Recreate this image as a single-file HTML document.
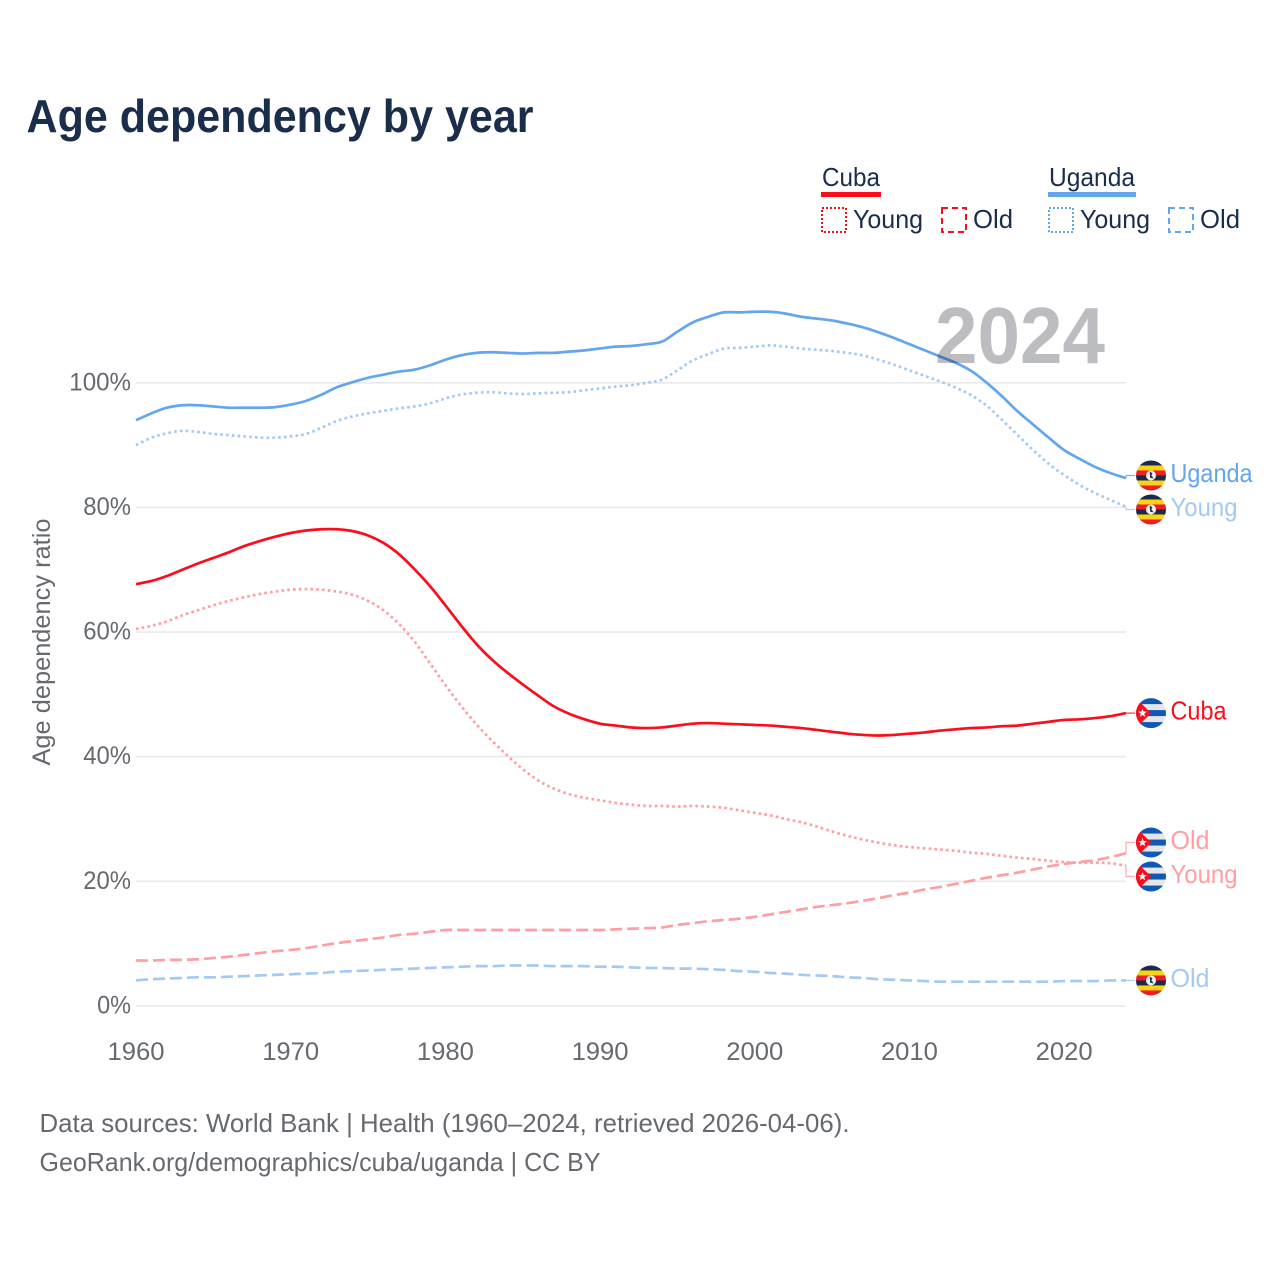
<!DOCTYPE html>
<html lang="en">
<head>
<meta charset="utf-8">
<title>Age dependency by year</title>
<style>
html,body{margin:0;padding:0;background:#fff;width:1280px;height:1280px;overflow:hidden}
svg{display:block}
text{font-family:"Liberation Sans",Arial,sans-serif}
</style>
</head>
<body>
<svg id="chart" xmlns="http://www.w3.org/2000/svg" width="1280" height="1280" viewBox="0 0 1280 1280">
  <rect width="1280" height="1280" fill="#fff"/>
  <text x="26.5" y="132" font-size="46" font-weight="700" fill="#1a2e4c" textLength="507" lengthAdjust="spacingAndGlyphs">Age dependency by year</text>

  <g font-size="26" fill="#1a2e4c">
    <text x="822" y="186" textLength="58" lengthAdjust="spacingAndGlyphs">Cuba</text>
    <rect x="821" y="192" width="60" height="5" fill="#fb0d1b"/>
    <rect x="822" y="208" width="24" height="24" fill="none" stroke="#fb0d1b" stroke-width="2" stroke-dasharray="2 2"/>
    <text x="853" y="228" textLength="70" lengthAdjust="spacingAndGlyphs">Young</text>
    <rect x="942" y="208" width="24" height="24" fill="none" stroke="#fb0d1b" stroke-width="2" stroke-dasharray="6 4"/>
    <text x="973" y="228" textLength="40" lengthAdjust="spacingAndGlyphs">Old</text>
    <text x="1049" y="186" textLength="86" lengthAdjust="spacingAndGlyphs">Uganda</text>
    <rect x="1048" y="192" width="88" height="5" fill="#63a6ee"/>
    <rect x="1049" y="208" width="24" height="24" fill="none" stroke="#63a6ee" stroke-width="2" stroke-dasharray="2 2"/>
    <text x="1080" y="228" textLength="70" lengthAdjust="spacingAndGlyphs">Young</text>
    <rect x="1169" y="208" width="24" height="24" fill="none" stroke="#63a6ee" stroke-width="2" stroke-dasharray="6 4"/>
    <text x="1200" y="228" textLength="40" lengthAdjust="spacingAndGlyphs">Old</text>
  </g>

  <g id="grid"></g>
  <g id="yticks"></g>
  <g id="xticks"></g>
  <text transform="translate(50,642) rotate(-90)" text-anchor="middle" font-size="25" fill="#666a70" textLength="247" lengthAdjust="spacingAndGlyphs">Age dependency ratio</text>

  <g id="series"></g>
  <text id="year" x="935" y="363" font-size="80" font-weight="700" fill="#bcbdc0" textLength="170" lengthAdjust="spacingAndGlyphs" style="mix-blend-mode:multiply">2024</text>
  <g id="endlabels"></g>

  <g font-size="26" fill="#666a70">
    <text x="39.5" y="1132" textLength="810" lengthAdjust="spacingAndGlyphs">Data sources: World Bank | Health (1960–2024, retrieved 2026-04-06).</text>
    <text x="39.5" y="1171" textLength="561" lengthAdjust="spacingAndGlyphs">GeoRank.org/demographics/cuba/uganda | CC BY</text>
  </g>
</svg>
<script>
const yearStart = 1960;
const xTickLabels = [1960, 1970, 1980, 1990, 2000, 2010, 2020];
const yTickLabels = [0, 20, 40, 60, 80, 100];

const ugandaTotal = [
  94.0,95.1,96.0,96.4,96.4,96.2,96.0,96.0,96.0,96.1,
  96.5,97.1,98.1,99.3,100.1,100.8,101.3,101.8,102.1,102.8,
  103.7,104.4,104.8,104.9,104.8,104.7,104.8,104.8,105.0,105.2,
  105.5,105.8,105.9,106.2,106.6,108.2,109.7,110.6,111.3,111.3,
  111.4,111.4,111.1,110.6,110.3,110.0,109.5,108.9,108.1,107.2,
  106.2,105.2,104.2,103.2,101.9,100.0,97.8,95.4,93.3,91.2,
  89.2,87.8,86.5,85.5,84.7];
const ugandaYoung = [
  90.0,91.2,91.9,92.3,92.1,91.8,91.6,91.4,91.2,91.2,
  91.4,91.8,92.8,93.9,94.6,95.1,95.5,95.9,96.2,96.7,
  97.5,98.1,98.4,98.5,98.3,98.2,98.3,98.4,98.5,98.8,
  99.1,99.4,99.6,100.0,100.5,102.0,103.6,104.6,105.5,105.6,
  105.8,106.0,105.8,105.5,105.3,105.1,104.8,104.4,103.7,102.9,
  102.0,101.1,100.2,99.2,98.0,96.3,94.0,91.6,89.2,87.0,
  85.2,83.6,82.3,81.2,80.1];
const ugandaOld = [
  4.1,4.3,4.4,4.5,4.6,4.6,4.7,4.8,4.9,5.0,
  5.1,5.2,5.3,5.5,5.6,5.7,5.8,5.9,6.0,6.1,
  6.2,6.3,6.4,6.4,6.5,6.5,6.5,6.4,6.4,6.4,
  6.3,6.3,6.2,6.1,6.1,6.0,6.0,5.9,5.8,5.6,
  5.5,5.3,5.2,5.0,4.9,4.8,4.6,4.5,4.3,4.2,
  4.1,4.0,3.9,3.9,3.9,3.9,3.9,3.9,3.9,3.9,
  4.0,4.0,4.0,4.1,4.1];
const cubaTotal = [
  67.7,68.2,69.0,70.0,71.0,71.9,72.8,73.8,74.6,75.3,
  75.9,76.3,76.5,76.5,76.2,75.5,74.3,72.5,70.1,67.4,
  64.3,61.1,58.1,55.6,53.5,51.6,49.8,48.1,46.9,46.0,
  45.3,45.0,44.7,44.6,44.7,45.0,45.3,45.4,45.3,45.2,
  45.1,45.0,44.8,44.6,44.3,44.0,43.7,43.5,43.4,43.5,
  43.7,43.9,44.2,44.4,44.6,44.7,44.9,45.0,45.3,45.6,
  45.9,46.0,46.2,46.5,47.0];
const cubaYoung = [
  60.5,61.0,61.7,62.7,63.5,64.3,65.0,65.6,66.1,66.5,
  66.8,66.9,66.8,66.5,66.0,65.0,63.5,61.3,58.5,55.0,
  51.5,48.2,45.2,42.6,40.2,38.0,36.2,34.9,34.0,33.4,
  33.0,32.6,32.3,32.1,32.1,32.0,32.1,32.0,31.8,31.4,
  31.0,30.6,30.0,29.5,28.8,28.0,27.3,26.7,26.2,25.8,
  25.5,25.3,25.1,24.9,24.6,24.4,24.1,23.8,23.6,23.3,
  23.1,23.0,23.0,22.9,22.5];
const cubaOld = [
  7.3,7.3,7.4,7.4,7.5,7.7,7.9,8.2,8.5,8.8,
  9.0,9.3,9.7,10.1,10.4,10.7,11.0,11.4,11.6,11.9,
  12.2,12.2,12.2,12.2,12.2,12.2,12.2,12.2,12.2,12.2,
  12.2,12.3,12.4,12.5,12.6,13.0,13.3,13.6,13.8,14.0,
  14.3,14.7,15.1,15.5,15.9,16.2,16.5,16.9,17.3,17.8,
  18.2,18.7,19.1,19.6,20.1,20.6,21.0,21.4,21.9,22.4,
  22.8,23.1,23.4,23.9,24.5];

const NS = 'http://www.w3.org/2000/svg';
const RED = '#fb0d1b', BLUE = '#63a6ee', RED_L = '#ff9ea3', BLUE_L = '#a4c9f2';
const xScale = function (year) { return 136 + (year - 1960) * (1126 - 136) / 64; };
const yScale = function (pct) { return 1006 - pct * 6.232; };

function make(tag, attrs, parent) {
  const el = document.createElementNS(NS, tag);
  for (const k in attrs) el.setAttribute(k, attrs[k]);
  parent.appendChild(el);
  return el;
}

const gridG = document.getElementById('grid');
const yG = document.getElementById('yticks');
yTickLabels.forEach(function (v) {
  const line = make('line', {x1: 136, x2: 1126, y1: yScale(v), y2: yScale(v), stroke: '#e9e9eb', 'stroke-width': 1.6}, gridG);
  
  
  const t = make('text', {x: 131, y: yScale(v) + 7.5, 'text-anchor': 'end', 'font-size': 25, fill: '#666a70',
    textLength: String(v).length * 13.9 + 20, lengthAdjust: 'spacingAndGlyphs'}, yG);
  
  
  t.textContent = v + '%';
});
const xG = document.getElementById('xticks');
xTickLabels.forEach(function (v) {
  const t = make('text', {x: xScale(v), y: 1060, 'text-anchor': 'middle', 'font-size': 25, fill: '#666a70',
    textLength: 57, lengthAdjust: 'spacingAndGlyphs'}, xG);
  
  
  t.textContent = v;
});

function pathFrom(values) {
  const pts = values.map(function (v, i) { return [xScale(yearStart + i), yScale(v)]; });
  let d = 'M' + pts[0][0].toFixed(2) + ' ' + pts[0][1].toFixed(2);
  for (let i = 0; i < pts.length - 1; i++) {
    const p0 = pts[Math.max(i - 1, 0)], p1 = pts[i], p2 = pts[i + 1], p3 = pts[Math.min(i + 2, pts.length - 1)];
    const c1x = p1[0] + (p2[0] - p0[0]) / 6, c1y = p1[1] + (p2[1] - p0[1]) / 6;
    const c2x = p2[0] - (p3[0] - p1[0]) / 6, c2y = p2[1] - (p3[1] - p1[1]) / 6;
    d += 'C' + c1x.toFixed(2) + ' ' + c1y.toFixed(2) + ' ' + c2x.toFixed(2) + ' ' + c2y.toFixed(2) + ' ' + p2[0].toFixed(2) + ' ' + p2[1].toFixed(2);
  }
  return d;
}

const seriesList = [
  {key: 'uganda-old', values: ugandaOld, color: BLUE_L, dash: '12 5', w: 2.7, label: 'Old', flag: 'uganda'},
  {key: 'cuba-old', values: cubaOld, color: RED_L, dash: '12 5', w: 2.7, label: 'Old', flag: 'cuba'},
  {key: 'cuba-young', values: cubaYoung, color: RED_L, dash: '2.6 3.2', w: 2.7, label: 'Young', flag: 'cuba'},
  {key: 'cuba-total', values: cubaTotal, color: RED, dash: '', w: 2.7, label: 'Cuba', flag: 'cuba'},
  {key: 'uganda-young', values: ugandaYoung, color: BLUE_L, dash: '2.6 3.2', w: 2.7, label: 'Young', flag: 'uganda'},
  {key: 'uganda-total', values: ugandaTotal, color: BLUE, dash: '', w: 2.7, label: 'Uganda', flag: 'uganda'}
];

const seriesG = document.getElementById('series');
seriesList.forEach(function (s) {
  const p = make('path', {d: pathFrom(s.values), fill: 'none', stroke: s.color, 'stroke-width': s.w}, seriesG);
  if (s.dash) p.setAttribute('stroke-dasharray', s.dash);
  
  
});

/* End labels: start at each series' last value, then push apart to avoid overlap. */
const ends = seriesList.map(function (s) {
  return {s: s, endY: yScale(s.values[s.values.length - 1]), y: yScale(s.values[s.values.length - 1])};
}).sort(function (a, b) { return a.endY - b.endY; });
const MIN_GAP = 34;
for (let pass = 0; pass < 6; pass++) {
  for (let i = 0; i < ends.length - 1; i++) {
    const gap = ends[i + 1].y - ends[i].y;
    if (gap < MIN_GAP) {
      const shift = (MIN_GAP - gap) / 2;
      ends[i].y -= shift;
      ends[i + 1].y += shift;
    }
  }
}

const labelsG = document.getElementById('endlabels');
const defs = make('defs', {}, labelsG);
function drawUganda(g, cx, cy) {
  const colors = ['#1a2b4a', '#fcd116', '#ee1c25', '#1a2b4a', '#fcd116', '#ee1c25'];
  colors.forEach(function (c, i) {
    make('rect', {x: cx - 15, y: cy - 15 + i * 5, width: 30, height: 5.2, fill: c}, g);
  });
  make('circle', {cx: cx, cy: cy, r: 5, fill: '#f0f0f0'}, g);
  make('path', {d: 'M' + (cx - 1) + ' ' + (cy - 3.5) + 'l2 1.5l-1 2l2 2.5l-2.5-.5z', fill: '#1a2b4a', stroke: '#1a2b4a', 'stroke-width': 0.6}, g);
}
function drawCuba(g, cx, cy) {
  make('rect', {x: cx - 15, y: cy - 15, width: 30, height: 30, fill: '#e6e6ea'}, g);
  [0, 2, 4].forEach(function (i) {
    make('rect', {x: cx - 15, y: cy - 15 + i * 6, width: 30, height: 6, fill: '#1158b5'}, g);
  });
  make('polygon', {points: (cx - 15) + ',' + (cy - 15) + ' ' + (cx) + ',' + cy + ' ' + (cx - 15) + ',' + (cy + 15), fill: '#fb0d1b'}, g);
  const star = [];
  for (let k = 0; k < 10; k++) {
    const r = k % 2 ? 1.9 : 4.6, a = -Math.PI / 2 + k * Math.PI / 5;
    star.push((cx - 8.5 + r * Math.cos(a)).toFixed(2) + ',' + (cy + r * Math.sin(a)).toFixed(2));
  }
  make('polygon', {points: star.join(' '), fill: '#f4f4f4'}, g);
}

ends.forEach(function (e, idx) {
  const s = e.s, cx = 1151, cy = e.y;
  const conn = make('path', {d: 'M1126 ' + e.endY.toFixed(1) + 'L1126 ' + cy.toFixed(1) + 'L1135 ' + cy.toFixed(1),
    fill: 'none', stroke: s.color, 'stroke-width': 1.2, 'stroke-opacity': 0.85}, labelsG);
  
  

  const clip = make('clipPath', {id: 'flag-clip-' + idx}, defs);
  make('circle', {cx: cx, cy: cy, r: 15}, clip);
  const g = make('g', {'clip-path': 'url(#flag-clip-' + idx + ')'}, labelsG);
  
  
  if (s.flag === 'uganda') drawUganda(g, cx, cy); else drawCuba(g, cx, cy);

  const widths = {Uganda: 82, Young: 67, Cuba: 56, Old: 39};
  const t = make('text', {x: 1170.5, y: cy + 6.5, 'font-size': 26, fill: s.color, textLength: widths[s.label], lengthAdjust: 'spacingAndGlyphs'}, labelsG);
  
  
  t.textContent = s.label;
});
</script>
</body>
</html>
